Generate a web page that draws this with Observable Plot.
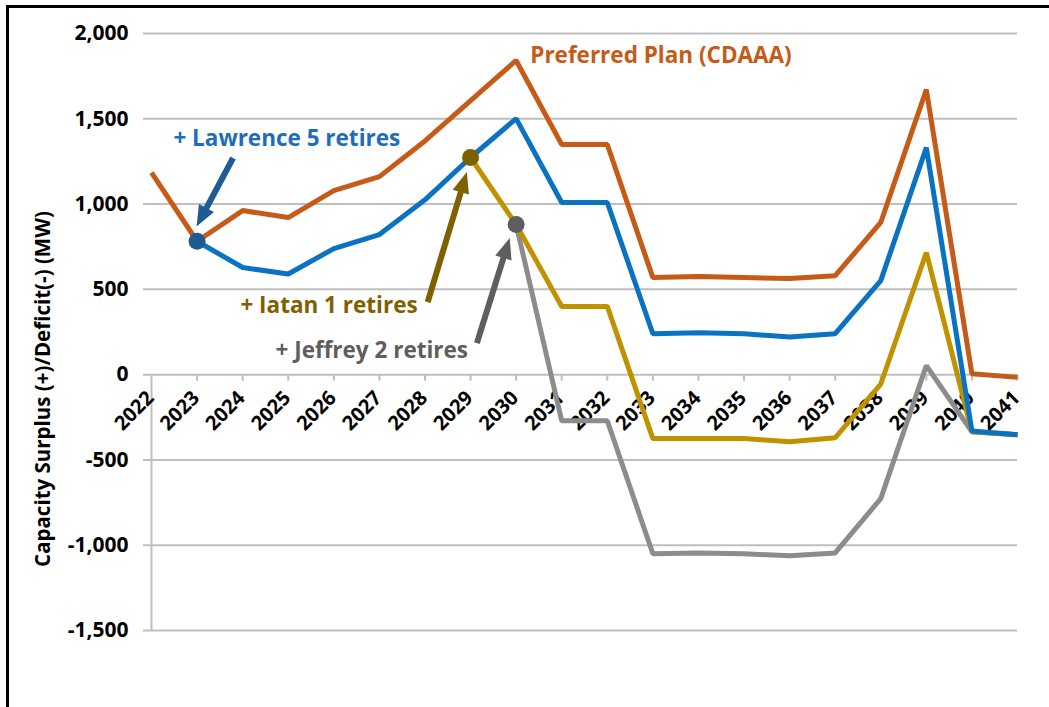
<!DOCTYPE html>
<html><head><meta charset="utf-8">
<script src="https://cdn.jsdelivr.net/npm/d3@7"></script>
<script src="https://cdn.jsdelivr.net/npm/@observablehq/plot@0.6"></script>
<style>
html,body{margin:0;padding:0;background:#fff;}
#wrap{position:relative;width:1049px;height:707px;overflow:hidden;}
#frame{position:absolute;left:6px;top:5px;width:1100px;height:800px;border-left:3px solid #000;border-top:3px solid #000;}
#chart{position:absolute;left:0;top:0;}
</style></head><body>
<div id="wrap"><div id="frame"></div><div id="chart"></div></div>
<script>
const years = [2022,2023,2024,2025,2026,2027,2028,2029,2030,2031,2032,2033,2034,2035,2036,2037,2038,2039,2040,2041];
const preferred = [1185, 782, 962, 921, 1079, 1161, 1370, 1607, 1842, 1349, 1349, 569, 575, 569, 563, 580, 892, 1671, 5, -16];
const lawrence  = [null, 782, 628, 590, 739, 821, 1025, 1273, 1501, 1009, 1009, 240, 246, 240, 220, 240, 551, 1331, -330, -352];
const iatan     = [null, null, null, null, null, null, null, 1273, 880, 400, 400, -375, -375, -375, -393, -370, -55, 716, -335, -352];
const jeffrey   = [null, null, null, null, null, null, null, null, 880, -270, -270, -1050, -1045, -1050, -1062, -1045, -727, 53, -335, -352];
const yTicks = [-1500, -1000, -500, 0, 500, 1000, 1500, 2000];
const yLabel = "Capacity Surplus (+)/Deficit(-) (MW)";

const seriesNames = ["Jeffrey 2", "Iatan 1", "Lawrence 5", "Preferred Plan (CDAAA)"];
const seriesValues = [jeffrey, iatan, lawrence, preferred];
const seriesColors = ["#8C8C8C", "#C09100", "#0A72C2", "#C65A17"];

const rows = (vals) => years.map((year, i) => ({year, value: vals[i]}));

const markers = [
  {year: 2023, value: lawrence[1], color: "#1F5A93"},
  {year: 2029, value: iatan[7], color: "#7F6000"},
  {year: 2030, value: jeffrey[8], color: "#5E5E5E"}
];
const labels = [
  {text: "+ Lawrence 5 retires", x: 2022.48, y: 1384, color: "#1E6DB6"},
  {text: "Preferred Plan (CDAAA)", x: 2030.31, y: 1871, color: "#C65A17"},
  {text: "+ Iatan 1 retires", x: 2023.95, y: 405, color: "#7F6000"},
  {text: "+ Jeffrey 2 retires", x: 2024.72, y: 141, color: "#5E5E5E"}
];
const arrows = [
  {x1: 2023.80, y1: 1267, x2: 2023.00, y2: 866, color: "#1F5A93"},
  {x1: 2028.07, y1: 422, x2: 2028.93, y2: 1185, color: "#7F6000"},
  {x1: 2029.15, y1: 182, x2: 2029.87, y2: 798, color: "#5E5E5E"}
];

const font = "'Open Sans', Lato, sans-serif";
const fmt = d => d3.format(",")(d).replace("\u2212", "-");
const lineMarks = seriesValues.map((vals, k) => Plot.line(rows(vals), {
  x: "year", y: "value", stroke: seriesColors[k], strokeWidth: 5, strokeLinejoin: "miter", strokeLinecap: "butt"
}));

// filled-head arrows positioned through the plot's own scales
function arrowMark(index, scales) {
  const g = d3.create("svg:g");
  for (const a of arrows) {
    const x1 = scales.x(a.x1), y1 = scales.y(a.y1), x2 = scales.x(a.x2), y2 = scales.y(a.y2);
    const dx = x2 - x1, dy = y2 - y1, len = Math.hypot(dx, dy), ux = dx / len, uy = dy / len;
    const hl = 21, hw = 8.5;
    const bx = x2 - ux * hl, by = y2 - uy * hl;
    g.append("line").attr("x1", x1).attr("y1", y1).attr("x2", bx + ux * 3).attr("y2", by + uy * 3)
      .attr("stroke", a.color).attr("stroke-width", 6);
    g.append("polygon")
      .attr("points", `${x2},${y2} ${bx - uy * hw},${by + ux * hw} ${bx + uy * hw},${by - ux * hw}`)
      .attr("fill", a.color);
  }
  return g.node();
}

const chart = Plot.plot({
  width: 1049, height: 707,
  marginLeft: 151, marginRight: 32, marginTop: 33, marginBottom: 77,
  style: {fontFamily: font, background: "transparent"},
  x: {domain: [2022, 2041], axis: null},
  y: {domain: [-1500, 2000]},
  marks: [
    Plot.ruleY(yTicks, {x1: 2022 - 8/45.6, x2: 2041, stroke: "#BFBFBF", strokeWidth: 2}),
    Plot.ruleX([2022], {y1: -1500, y2: 0, stroke: "#BFBFBF", strokeWidth: 2}),
    Plot.ruleX(years.slice(1), {x: d => d, y1: 0, y2: -38, stroke: "#BFBFBF", strokeWidth: 2}),
    Plot.axisY({ticks: yTicks, tickFormat: fmt, tickSize: 0, tickPadding: 23, label: null,
      fontSize: 21, fontWeight: "bold", fill: "#000"}),
    Plot.text([yLabel], {frameAnchor: "left", rotate: -90, dx: -108, dy: 57, fontSize: 20.5, fontWeight: "bold", fill: "#000", textAnchor: "middle"}),
    Plot.text(years, {x: d => d, y: 0, text: d => String(d), rotate: -45, textAnchor: "end", lineAnchor: "middle",
      dx: -1, dy: 20, fontSize: 20, fontWeight: "bold", fill: "#000"}),
    ...lineMarks,
    arrowMark,
    Plot.dot(markers, {x: "year", y: "value", fill: "color", r: 8.5}),
    Plot.text(labels, {x: "x", y: "y", text: "text", fill: "color", textAnchor: "start", fontSize: 22.5, fontWeight: "bold"})
  ]
});
document.getElementById("chart").appendChild(chart);
</script>
</body></html>
